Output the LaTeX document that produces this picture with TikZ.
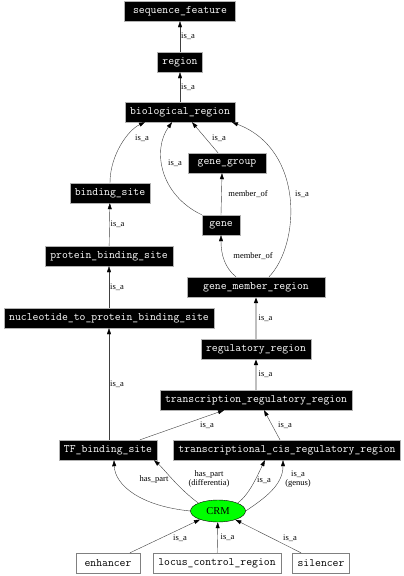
\documentclass[tikz,border=0pt]{standalone}
\usepackage{fontspec}
\setmainfont{Liberation Serif}
\usepackage{tikz}
\usetikzlibrary{arrows.meta, shapes.geometric}

\tikzset{
  term/.style={fill=black, draw=gray!60, text=white, font=\ttfamily\fontsize{11.4}{12}\selectfont,
    inner xsep=5pt, inner ysep=0pt, minimum height=20pt},
  plainterm/.style={term, fill=white, draw=gray, text=black},
  rel/.style={draw=black!75, -{Triangle[length=6pt, width=4pt, color=black]}},
  heavyrel/.style={rel, draw=gray!50, line width=1.4pt},
  lbl/.style={font=\fontsize{8.5}{9.5}\selectfont, inner sep=1pt, align=center}
}

\begin{document}
\begin{tikzpicture}[x=1pt, y=-1pt]
\useasboundingbox (0,0) rectangle (404,576);

% Cac nut thuat ngu (hop den)
\node[term, minimum width=111pt] (seqf) at (180,11) {sequence\_feature};
\node[term] (region) at (180,62) {region};
\node[term] (bioreg) at (180,112) {biological\_region};
\node[term, minimum width=78pt] (genegrp) at (227,163) {gene\_group};
\node[term] (bsite) at (110,193) {binding\_site};
\node[term, minimum width=38pt] (gene) at (221,225) {gene};
\node[term] (pbs) at (109,256) {protein\_binding\_site};
\node[term, minimum width=138pt] (gmr) at (256,287) {gene\_member\_region};
\node[term] (ntpbs) at (109,318) {nucleotide\_to\_protein\_binding\_site};
\node[term] (regreg) at (256,349) {regulatory\_region};
\node[term] (trr) at (256,400) {transcription\_regulatory\_region};
\node[term] (tfbs) at (108,450) {TF\_binding\_site};
\node[term] (tcrr) at (287,450) {transcriptional\_cis\_regulatory\_region};

% Nut CRM (elip xanh)
\node[ellipse, draw=black, fill=green, minimum width=55pt, minimum height=22pt, inner sep=0pt,
  font=\fontsize{10.5}{12}\selectfont] (crm) at (218,511) {CRM};

% Cac nut con (hop trang)
\node[plainterm, minimum width=64pt] (enh) at (108,563) {enhancer};
\node[plainterm] (lcr) at (217,563) {locus\_control\_region};
\node[plainterm] (sil) at (321,563) {silencer};

% Quan he is_a phia tren
\draw[rel] (region) -- (seqf) node[lbl, midway, right] {is\_a};
\draw[rel] (bioreg) -- (region) node[lbl, midway, right] {is\_a};
\draw[rel] (bsite.north) .. controls (110,155) and (128,130) .. ([xshift=-35pt]bioreg.south);
\node[lbl] (l1) at (142,138) {is\_a};
\draw[rel] (gene.north west) .. controls (160,195) and (152,150) .. ([xshift=-8pt]bioreg.south);
\node[lbl] (l2) at (175,163) {is\_a};
\draw[rel] ([xshift=-9pt]genegrp.north) -- ([xshift=12pt]bioreg.south);
\node[lbl] (l3) at (219,138) {is\_a};
\draw[rel] ([xshift=13pt]gmr.north) .. controls (300,245) and (305,150) .. ([xshift=52pt]bioreg.south);
\node[lbl] (l4) at (302,194) {is\_a};

% Quan he member_of
\draw[rel] (gene.north) -- ([xshift=-5pt]genegrp.south);
\node[lbl] (l5) at (248,194) {member\_of};
\draw[rel] ([xshift=-20pt]gmr.north) .. controls (225,268) and (221,255) .. (gene.south);
\node[lbl] (l6) at (253,256) {member\_of};

% Cot trai
\draw[rel] (pbs) -- (bsite) node[lbl, midway, right] {is\_a};
\draw[rel] (ntpbs) -- (pbs) node[lbl, midway, right] {is\_a};
\draw[rel] ([xshift=1pt]tfbs.north) -- (ntpbs.south) node[lbl, midway, right] {is\_a};

% Cot phai (duong xam dam)
\draw[heavyrel] (regreg) -- (gmr) node[lbl, midway, right, xshift=1pt] {is\_a};
\draw[heavyrel] (trr) -- (regreg) node[lbl, midway, right, xshift=1pt] {is\_a};
\draw[rel] ([xshift=32pt]tfbs.north) -- ([xshift=-32pt]trr.south);
\node[lbl] (l7) at (207,425) {is\_a};
\draw[rel] ([xshift=-7pt]tcrr.north) -- ([xshift=8pt]trr.south);
\node[lbl] (l8) at (285,425) {is\_a};

% Quan he tu CRM
\draw[rel] (crm.west) .. controls (140,506) and (115,485) .. ([xshift=6pt]tfbs.south);
\node[lbl] (l9) at (154,479) {has\_part};
\draw[rel] (crm.north west) .. controls (178,488) and (165,470) .. ([xshift=46pt]tfbs.south);
\node[lbl] (l10) at (209,479) {has\_part\\(differentia)};
\draw[rel] (crm.north east) .. controls (250,494) and (258,474) .. ([xshift=-22pt]tcrr.south);
\node[lbl] (l11) at (264,480) {is\_a};
\draw[rel] (crm.east) .. controls (265,498) and (283,485) .. ([xshift=-4pt]tcrr.south);
\node[lbl] (l12) at (298,479) {is\_a\\(genus)};

% Cac nut con is_a CRM
\draw[rel] ([xshift=22pt]enh.north) -- (crm);
\node[lbl] (l13) at (180,538) {is\_a};
\draw[rel] (lcr) -- (crm) node[lbl, midway, right, xshift=2pt] {is\_a};
\draw[rel] ([xshift=-20pt]sil.north) -- (crm);
\node[lbl] (l14) at (290,538) {is\_a};
\end{tikzpicture}
\end{document}
